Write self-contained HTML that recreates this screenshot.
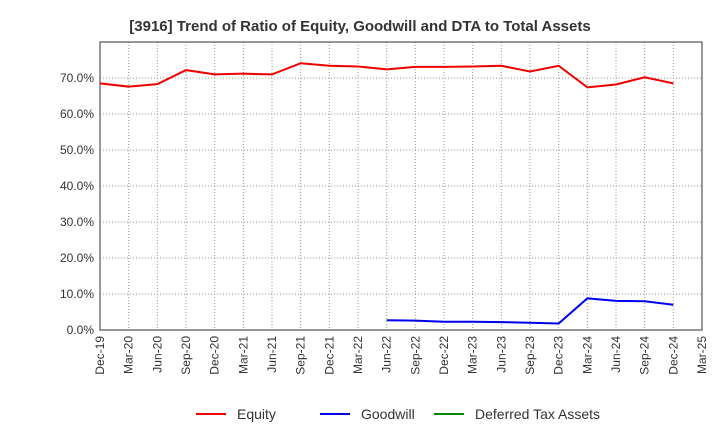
<!DOCTYPE html>
<html><head><meta charset="utf-8"><style>
body{margin:0;background:#fff;font-family:"Liberation Sans",Arial,sans-serif}
</style></head><body>
<svg id="c" width="720" height="440" xmlns="http://www.w3.org/2000/svg">
<text x="360" y="31" text-anchor="middle" font-size="15" font-weight="bold" fill="#333">[3916]  Trend of Ratio of Equity, Goodwill and DTA to Total Assets</text>
<g id="grid"></g><g id="axes"></g><g id="series"></g>
<g font-size="14" fill="#333">
<line x1="196" y1="414" x2="226" y2="414" stroke="#e00" stroke-width="2"/><text x="237" y="419">Equity</text>
<line x1="320" y1="414" x2="350" y2="414" stroke="#00e" stroke-width="2"/><text x="361" y="419">Goodwill</text>
<line x1="434" y1="414" x2="464" y2="414" stroke="#080" stroke-width="2"/><text x="475" y="419">Deferred Tax Assets</text>
</g>
</svg>
<script>
const categories=["Dec-19","Mar-20","Jun-20","Sep-20","Dec-20","Mar-21","Jun-21","Sep-21","Dec-21","Mar-22","Jun-22","Sep-22","Dec-22","Mar-23","Jun-23","Sep-23","Dec-23","Mar-24","Jun-24","Sep-24","Dec-24","Mar-25"];
const equity=[68.5,67.6,68.3,72.2,71.0,71.2,71.0,74.1,73.4,73.2,72.4,73.1,73.1,73.2,73.4,71.8,73.4,67.4,68.2,70.2,68.5,null];
const goodwill=[null,null,null,null,null,null,null,null,null,null,2.7,2.6,2.3,2.3,2.2,2.0,1.8,8.8,8.1,8.0,7.0,null];
const dta=[];
const yTicks=[0,10,20,30,40,50,60,70];
const L=100,R=702,T=42,B=330,YMAX=80;
const x=i=>L+i*(R-L)/(categories.length-1);
const y=v=>B-v/YMAX*(B-T);
const ns="http://www.w3.org/2000/svg";
function mk(p,t,a){const e=document.createElementNS(ns,t);for(const k in a)e.setAttribute(k,a[k]);document.getElementById(p).appendChild(e);return e;}
categories.forEach((c,i)=>{
 const g=mk('grid','line',{x1:x(i),x2:x(i),y1:T,y2:B,stroke:'#999','stroke-dasharray':'1,2','stroke-width':1});
 
 
 const t=mk('axes','text',{transform:`translate(${x(i)+4},${B+6}) rotate(-90)`,'text-anchor':'end','font-size':12,fill:'#333'});
 t.textContent=c;
 
 
});
yTicks.forEach(v=>{
 const g=mk('grid','line',{x1:L,x2:R,y1:y(v),y2:y(v),stroke:'#999','stroke-dasharray':'1,2','stroke-width':1});
 
 
 const t=mk('axes','text',{x:L-6,y:y(v)+4,'text-anchor':'end','font-size':12,fill:'#333'});
 t.textContent=v.toFixed(1)+'%';
 
 
});
const fr=mk('axes','rect',{x:L,y:T,width:R-L,height:B-T,fill:'none',stroke:'#333','stroke-width':1});


function line(arr,col,name){
 const pts=[];arr.forEach((v,i)=>{if(v!=null)pts.push(x(i)+','+y(v));});
 if(!pts.length)return;
 const p=mk('series','polyline',{points:pts.join(' '),fill:'none',stroke:col,'stroke-width':2});
 
 
}
line(equity,'#e00','equity-line');
line(goodwill,'#00e','goodwill-line');
line(dta,'#080','dta-line');
</script>
</body></html>
